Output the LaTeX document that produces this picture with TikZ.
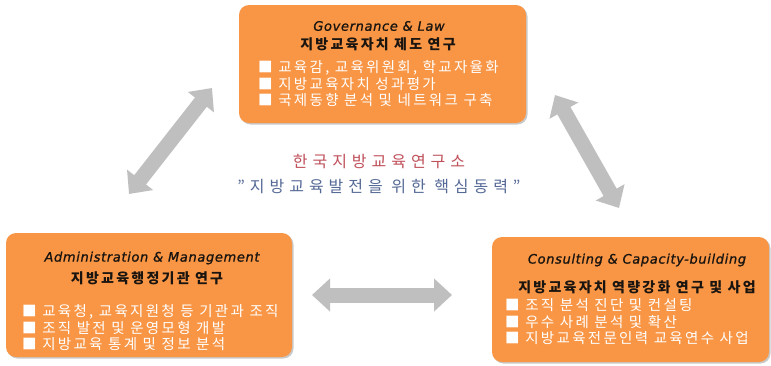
\documentclass[tikz,border=0pt]{standalone}
\usepackage{fontspec}
\setmainfont{Noto Sans CJK KR}
\newfontfamily\engfont{DejaVu Sans}
\usetikzlibrary{arrows.meta,shadows}
\definecolor{boxorange}{RGB}{248,150,70}
\definecolor{titlecol}{RGB}{25,20,15}
\definecolor{redtext}{RGB}{192,80,90}
\definecolor{bluetext}{RGB}{85,105,150}
\definecolor{arrowgray}{RGB}{191,191,191}
\tikzset{
  box/.style={draw=none, fill=boxorange, rounded corners=10pt,
    drop shadow={shadow xshift=1.5pt, shadow yshift=-1.5pt, opacity=0.35, fill=black!60}},
  entitle/.style={inner sep=0pt, text=titlecol,
    font=\engfont\itshape\fontsize{13}{15}\selectfont\addfontfeature{LetterSpace=5,FakeBold=1}},
  kohead/.style={inner sep=0pt, text=titlecol,
    font=\bfseries\fontsize{14}{16}\selectfont\addfontfeature{LetterSpace=16}},
  bullet/.style={inner sep=0pt, anchor=west, text=white,
    font=\fontsize{14.5}{16}\selectfont\addfontfeature{LetterSpace=16}},
  center/.style={inner sep=0pt,
    font=\fontsize{16}{18}\selectfont\addfontfeature{LetterSpace=31}},
  dblarrow/.style={line width=15pt, draw=arrowgray,
    {Triangle[length=18pt,width=32pt]}-{Triangle[length=18pt,width=32pt]}}
}
\begin{document}
\begin{tikzpicture}[x=1pt,y=-1pt]
\useasboundingbox (0,0) rectangle (771,365);
\fill[white] (0,0) rectangle (771,365);

% boxes
\node[box, minimum width=287pt, minimum height=118pt] (gov) at (382.5,64) {};
\node[box, minimum width=286pt, minimum height=124pt] (adm) at (149,295) {};
\node[box, minimum width=277pt, minimum height=125pt] (con) at (630.5,299.5) {};

% top box text
\node[entitle] (govt) at (379,26) {Governance \& Law};
\node[kohead] (govh) at (378,44) {지방교육자치 제도 연구};
\node[bullet] (govb1) at (258,68) {■ 교육감, 교육위원회, 학교자율화};
\node[bullet] (govb2) at (258,84) {■ 지방교육자치 성과평가};
\node[bullet] (govb3) at (258,100) {■ 국제동향 분석 및 네트워크 구축};

% left box text
\node[entitle] (admt) at (152,258) {Administration \& Management};
\node[kohead] (admh) at (147,278) {지방교육행정기관 연구};
\node[bullet] (admb1) at (22,312) {■ 교육청, 교육지원청 등 기관과 조직};
\node[bullet] (admb2) at (22,328) {■ 조직 발전 및 운영모형 개발};
\node[bullet] (admb3) at (22,344) {■ 지방교육 통계 및 정보 분석};

% right box text
\node[entitle] (cont) at (637,260) {Consulting \& Capacity-building};
\node[kohead] (conh) at (637,287) {지방교육자치 역량강화 연구 및 사업};
\node[bullet] (conb1) at (505,305) {■ 조직 분석 진단 및 컨설팅};
\node[bullet] (conb2) at (505,322) {■ 우수 사례 분석 및 확산};
\node[bullet] (conb3) at (505,338) {■ 지방교육전문인력 교육연수 사업};

% center text
\node[center, text=redtext] (inst) at (379,162) {한국지방교육연구소};
\node[center, text=bluetext] (motto) at (379,187) {"지방교육발전을 위한 핵심동력"};

% arrows
\coordinate (la1) at (212,88);
\coordinate (la2) at (129,194);
\coordinate (ra1) at (555,95);
\coordinate (ra2) at (619,208);
\coordinate (ha1) at (312,295);
\coordinate (ha2) at (452,295);
\draw[dblarrow] (la2) -- (la1);
\draw[dblarrow] (ra1) -- (ra2);
\draw[dblarrow] (ha1) -- (ha2);
\end{tikzpicture}
\end{document}
